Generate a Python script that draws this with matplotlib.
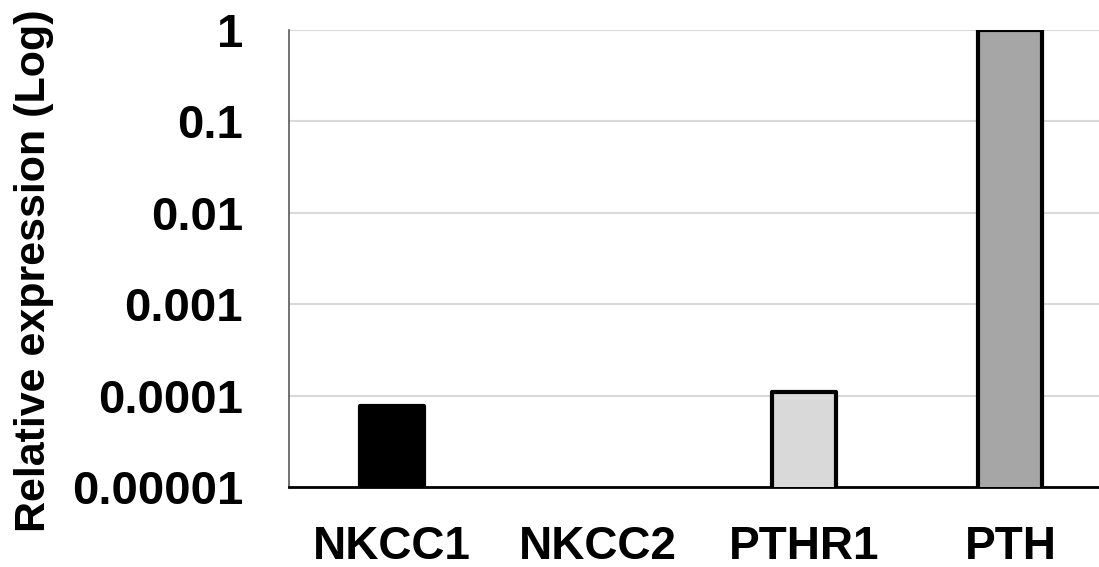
import matplotlib
matplotlib.use("Agg")
import matplotlib.pyplot as plt

categories = ["NKCC1", "NKCC2", "PTHR1", "PTH"]
values = [7.7e-5, 0.0, 1.11e-4, 1.0]
colors = ["#000000", "#ffffff", "#d9d9d9", "#a6a6a6"]
ytick_vals = [1e-5, 1e-4, 1e-3, 1e-2, 1e-1, 1]
ytick_labels = ["0.00001", "0.0001", "0.001", "0.01", "0.1", "1"]

plt.rcParams['font.family'] = ['Liberation Sans', 'DejaVu Sans']

fig = plt.figure(figsize=(10.99, 5.67), dpi=100)
ax = fig.add_axes([0.263, 0.141, 0.737, 0.806])

x = list(range(len(categories)))
for xi, v, c in zip(x, values, colors):
    if v > 0:
        ax.bar(xi, v, width=0.31, color=c, edgecolor="black", linewidth=3,
               joinstyle="round", zorder=3)

ax.set_yscale("log")
ax.set_ylim(1e-5, 1)
ax.set_xlim(-0.5, 3.43)
ax.set_yticks(ytick_vals)
ax.set_yticklabels(ytick_labels)
ax.minorticks_off()
ax.set_xticks(x)
ax.set_xticklabels(categories)
ax.tick_params(axis="y", length=0, labelsize=34, pad=33)
ax.tick_params(axis="x", length=0, labelsize=33, pad=27)
for lbl in ax.get_xticklabels() + ax.get_yticklabels():
    lbl.set_fontweight("bold")

ax.yaxis.grid(True, color="#d9d9d9", linewidth=1.5, zorder=0)
ax.set_axisbelow(True)
for s in ["top", "right"]:
    ax.spines[s].set_visible(False)
ax.spines["left"].set_color("#595959")
ax.spines["left"].set_linewidth(1.2)
ax.spines["bottom"].set_color("black")
ax.spines["bottom"].set_linewidth(2)

fig.text(0.031, 0.522, "Relative expression (Log)", rotation=90, va="center", ha="center",
         fontsize=31, fontweight="bold")

fig.savefig("out.png", dpi=100)
